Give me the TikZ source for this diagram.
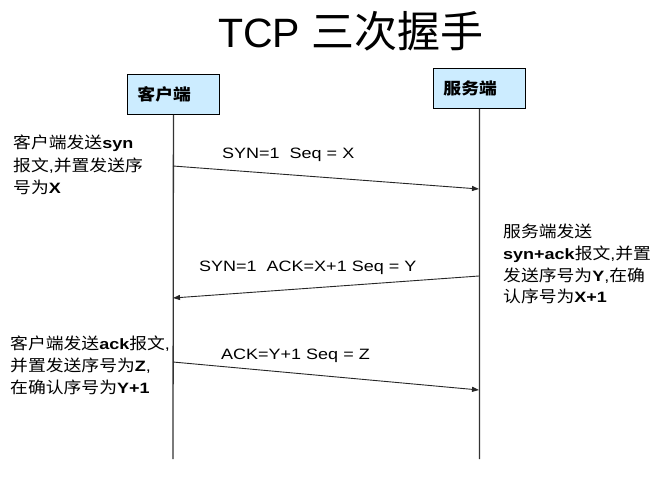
\documentclass[tikz,border=0pt]{standalone}
\usepackage{fontspec}
\setmainfont{Liberation Sans}[FakeStretch=1.2]
\newfontfamily\cjk{Noto Sans CJK SC}[FakeStretch=1.11, Scale=1.07]
\newfontfamily\cjktitle{Noto Sans CJK SC}
\newfontfamily\lattitle{Liberation Sans}
\usetikzlibrary{arrows.meta}
\newcommand{\zh}[1]{{\cjk #1}}
\begin{document}
\begin{tikzpicture}[x=1pt,y=-1pt,
  txt/.style={inner sep=0pt, anchor=base west, font=\fontsize{15}{18}\selectfont},
  box/.style={draw=black, line width=0.9pt, fill=boxblue, anchor=north west,
    minimum width=92pt, minimum height=40pt, text width=72pt, inner xsep=10pt,
    align=left, font=\fontsize{15}{18}\selectfont\bfseries},
  life/.style={draw=black!80, line width=1.3pt},
  msg/.style={draw=black!85, line width=0.9pt, -{Triangle[length=7pt,width=5pt]}}]
\definecolor{boxblue}{HTML}{CCECFF}
\useasboundingbox (0,0) rectangle (664,497);
\fill[white] (0,0) rectangle (664,497);
% title
\node[inner sep=0pt, anchor=base west] (title) at (218,48)
  {{\lattitle\fontsize{41}{41}\selectfont TCP }{\cjktitle\fontsize{43}{43}\selectfont 三次握手}};
% boxes
\node[box] (client) at (127,74) {\zh{客户端}};
\node[box] (server) at (433,68) {\zh{服务端}};
% lifelines
\coordinate (cend) at (173,459);
\coordinate (send) at (479.5,459);
\draw[life] (client.south) -- (cend);
\draw[life] (server.south) -- (send);
% message points
\coordinate (c1) at (173,166);
\coordinate (s1) at (479,189);
\coordinate (s2) at (479,276);
\coordinate (c2) at (173,298);
\coordinate (c3) at (173,362);
\coordinate (s3) at (479,390);
\draw[msg] (c1) -- (s1);
\draw[msg] (s2) -- (c2);
\draw[msg] (c3) -- (s3);
% message labels
\node[txt] (m1) at (222,159) {SYN=1\ \ Seq = X};
\node[txt] (m2) at (199,272) {SYN=1\ \ ACK=X+1 Seq = Y};
\node[txt] (m3) at (221,359) {ACK=Y+1 Seq = Z};
% left notes 1
\node[txt] (a1) at (13,149) {\zh{客户端发送}\textbf{syn}};
\node[txt] (a2) at (13,171.5) {\zh{报文},\zh{并置发送序}};
\node[txt] (a3) at (13,194) {\zh{号为}\textbf{X}};
% right notes
\node[txt] (b1) at (503,237) {\zh{服务端发送}};
\node[txt] (b2) at (503,259) {\textbf{syn+ack}\zh{报文},\zh{并置}};
\node[txt] (b3) at (503,281) {\zh{发送序号为}\textbf{Y},\zh{在确}};
\node[txt] (b4) at (503,302) {\zh{认序号为}\textbf{X+1}};
% left notes 3
\node[txt] (d1) at (10,349) {\zh{客户端发送}\textbf{ack}\zh{报文},};
\node[txt] (d2) at (10,371) {\zh{并置发送序号为}\textbf{Z},};
\node[txt] (d3) at (10,393) {\zh{在确认序号为}\textbf{Y+1}};
\end{tikzpicture}
\end{document}
